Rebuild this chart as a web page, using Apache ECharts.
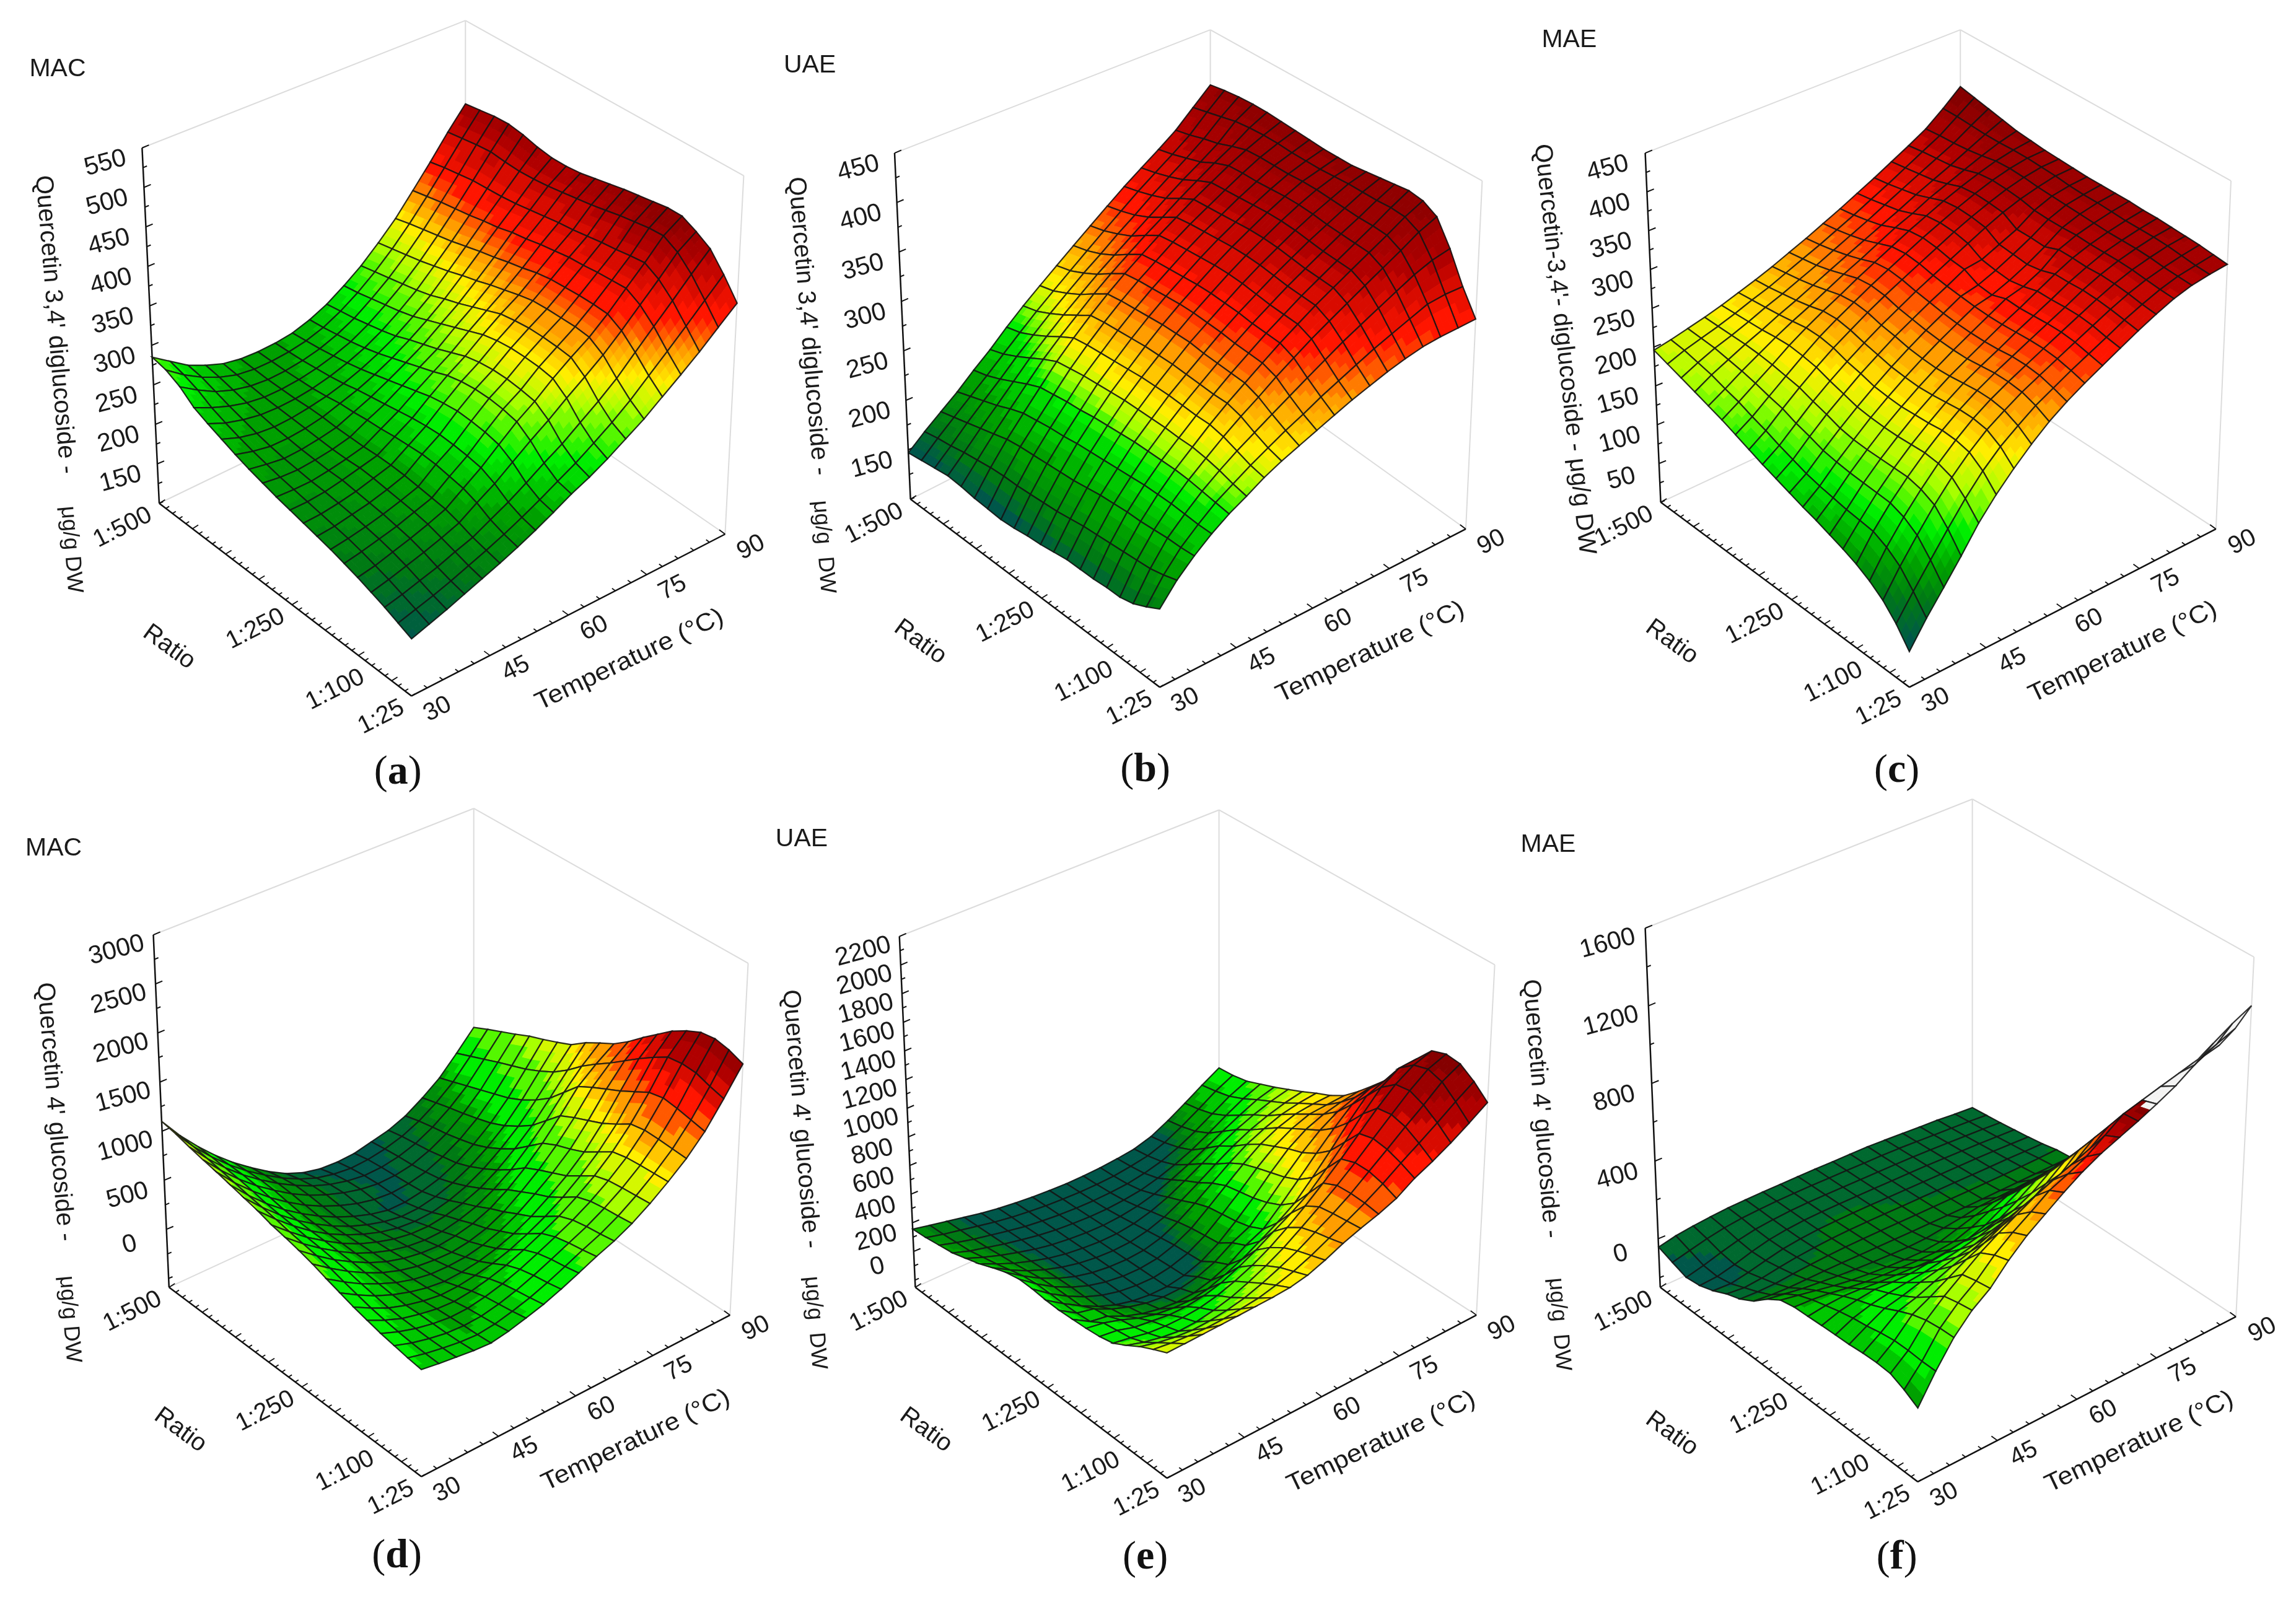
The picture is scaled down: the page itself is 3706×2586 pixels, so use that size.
<!DOCTYPE html>
<html><head><meta charset="utf-8">
<style>html,body{margin:0;padding:0;background:#fff}#c{width:3706px;height:2586px}</style>
<script src="https://cdn.jsdelivr.net/npm/echarts@6/dist/echarts.min.js"></script>
</head><body><div id="c"></div>
<script>
// Axis values
const temperatureTicks=[30,45,60,75,90];
const ratioTicks=[500,250,100,25];
const zTicksA=[150,200,250,300,350,400,450,500,550];
const zTicksB=[150,200,250,300,350,400,450];
const zTicksC=[50,100,150,200,250,300,350,400,450];
const zTicksD=[0,500,1000,1500,2000,2500,3000];
const zTicksE=[0,200,400,600,800,1000,1200,1400,1600,1800,2000,2200];
const zTicksF=[0,400,800,1200,1600];
// Surface values: one row per ratio step (1:500 -> 1:25), one column per temperature step (30 -> 90)
const surfaceA=[
[285,270,255,245,237,233,232,233,236,243,253,267,283,303,325,352,380,410,438],
[281,265,252,242,235,232,232,234,238,245,256,270,287,307,330,356,384,413,441],
[272,258,246,238,233,231,232,235,240,248,259,274,291,311,334,360,387,416,444],
[258,248,240,234,231,231,233,237,243,251,263,278,295,315,338,363,390,418,445],
[250,241,235,231,230,231,234,239,246,255,267,282,299,320,342,366,391,416,442],
[243,235,230,228,229,232,236,242,250,260,272,287,304,325,347,370,392,415,437],
[236,230,226,226,228,232,239,246,255,266,279,294,311,331,352,373,394,416,434],
[230,226,223,224,227,231,240,249,260,272,285,301,317,336,356,378,397,418,434],
[225,222,221,223,226,231,242,252,265,278,291,308,324,342,361,381,400,421,436],
[220,219,219,222,226,231,243,255,270,284,298,315,331,347,365,385,403,424,440],
[216,216,218,222,227,232,245,258,275,291,305,322,338,352,370,388,405,427,444],
[212,213,216,220,226,232,246,260,278,295,309,326,341,356,373,391,408,431,448],
[208,210,214,218,224,231,247,261,280,297,311,328,343,357,374,392,411,435,451],
[204,207,211,216,222,229,246,260,279,297,311,328,343,357,375,394,413,438,454],
[199,203,208,213,220,227,243,258,277,295,309,327,342,357,375,395,416,441,457],
[194,198,204,210,217,225,240,255,273,291,306,324,340,355,374,396,418,442,457],
[188,193,199,205,212,220,234,247,263,279,294,311,327,344,364,386,408,432,448],
[182,187,193,199,207,214,225,236,249,263,276,292,308,326,348,370,392,415,437],
[175,181,187,194,202,210,219,229,240,252,264,278,293,310,330,350,371,393,415],
[168,175,182,190,198,206,215,225,236,248,258,270,284,298,315,332,350,370,390]];
const surfaceB=[
[147,160,172,184,198,211,226,240,253,266,279,292,305,318,330,342,355,372,389],
[149,163,176,189,202,216,230,244,257,270,283,296,309,322,334,346,359,376,392],
[151,165,180,194,208,223,237,251,264,277,289,302,314,327,339,351,364,380,394],
[153,168,184,199,215,231,245,259,272,285,297,309,321,333,345,356,368,384,395],
[152,170,188,205,222,239,254,268,282,295,307,319,330,342,353,364,374,386,395],
[150,172,192,210,228,246,262,277,291,304,316,328,339,350,360,370,379,387,394],
[149,173,194,212,230,248,264,279,293,306,318,330,341,351,361,371,380,387,393],
[148,173,195,214,232,250,265,280,294,307,319,331,342,352,362,371,380,386,392],
[149,174,196,215,233,251,266,281,295,308,320,332,343,353,363,372,380,386,391],
[151,175,197,217,235,252,267,282,296,309,321,333,344,354,364,373,381,386,391],
[152,176,198,218,236,253,268,282,296,309,321,333,344,354,364,373,381,387,391],
[154,178,200,219,237,253,268,282,296,308,320,332,343,353,363,372,380,388,393],
[156,180,202,220,238,253,268,281,294,307,319,330,341,351,361,370,379,388,395],
[156,181,203,221,238,253,267,280,293,305,317,328,339,349,359,369,378,388,397],
[156,182,204,222,238,252,266,279,292,304,316,327,338,348,358,368,378,389,399],
[157,183,204,222,238,252,266,279,291,303,315,326,337,347,357,367,377,388,397],
[157,184,205,222,237,250,263,275,286,298,309,320,330,340,350,360,370,381,389],
[160,185,206,221,235,247,258,268,278,288,298,308,318,327,336,345,354,361,365],
[166,188,206,220,233,243,253,262,271,279,288,296,304,312,319,326,333,335,335],
[173,192,207,220,231,240,250,258,265,272,279,286,292,298,303,307,309,310,311]];
const surfaceC=[
[196,200,205,210,216,223,230,238,247,256,266,276,287,298,310,322,335,353,373],
[190,198,204,210,217,225,232,241,250,259,269,279,290,301,313,325,337,353,369],
[184,194,203,210,218,227,235,244,253,263,273,283,294,305,316,327,338,352,365],
[178,190,200,210,219,229,238,248,258,268,278,288,298,309,319,329,340,351,361],
[172,184,197,209,221,232,242,253,264,274,285,296,305,316,325,334,343,351,357],
[166,179,193,207,222,235,247,258,270,281,292,303,313,323,332,340,347,352,355],
[159,172,188,204,220,235,248,260,272,283,294,305,315,325,334,342,348,352,353],
[152,166,184,201,217,232,245,258,270,281,292,303,314,324,333,341,347,351,352],
[145,159,177,195,211,226,240,253,265,277,288,299,310,321,331,339,345,350,351],
[139,153,172,190,206,222,236,250,262,274,285,297,300,310,320,335,344,348,350],
[133,147,166,184,201,217,232,246,259,271,283,288,297,308,320,334,343,347,350],
[127,143,163,181,199,215,230,244,257,269,281,286,295,306,319,334,342,347,350],
[122,140,161,180,198,214,229,243,256,268,280,292,298,309,326,335,341,346,350],
[116,137,160,180,198,215,230,244,256,268,280,291,303,315,326,334,340,345,349],
[110,135,159,180,199,216,232,246,258,269,281,292,303,315,325,334,340,345,349],
[103,133,158,180,200,218,234,248,260,271,282,293,304,316,326,334,340,345,348],
[94,125,152,176,198,217,234,248,260,271,282,293,304,315,325,333,339,344,347],
[82,113,141,168,192,213,231,245,258,269,280,291,302,313,323,331,337,342,346],
[65,94,122,150,177,201,221,237,252,264,276,287,298,310,320,329,336,340,344],
[43,73,100,128,158,183,205,225,243,258,271,283,295,307,318,328,335,339,342]];
const surfaceD=[
[1100,880,690,520,370,240,120,20,-50,-90,-100,-90,-50,-10,60,170,300,480,674],
[1070,860,680,520,380,260,150,60,-10,-50,-70,-60,-30,20,100,210,350,540,745],
[1030,835,665,515,385,270,170,85,20,-25,-50,-45,-15,40,130,250,400,600,810],
[995,810,645,500,375,260,165,90,30,-15,-40,-35,-5,60,155,285,450,660,875],
[965,780,620,475,350,240,150,75,15,-25,-40,-25,15,90,190,325,500,715,945],
[930,750,590,450,330,225,135,60,0,-40,-40,-10,40,120,230,370,550,770,1000],
[895,725,570,435,320,220,135,70,20,-10,-5,30,90,175,290,435,620,840,1060],
[860,700,555,425,315,225,150,90,50,35,45,85,150,245,370,520,710,920,1125],
[815,670,535,420,315,230,165,115,85,80,105,150,220,325,460,620,820,1030,1235],
[785,645,520,410,310,235,175,135,115,120,155,210,300,420,580,760,970,1160,1320],
[750,620,500,400,310,240,190,160,150,170,210,280,390,530,700,900,1120,1270,1400],
[710,590,480,385,305,245,205,185,180,205,255,340,460,600,770,970,1200,1370,1510],
[660,550,450,370,300,250,220,215,225,260,320,410,530,660,820,1030,1270,1480,1640],
[615,515,425,355,300,260,240,250,275,320,385,475,590,720,880,1090,1340,1590,1760],
[570,480,400,345,305,280,285,310,345,400,475,565,675,810,970,1170,1420,1690,1880],
[535,455,390,350,320,310,330,370,420,490,570,660,770,900,1060,1260,1500,1780,1970],
[500,435,385,350,330,335,365,410,470,545,625,710,815,940,1090,1285,1530,1800,2040],
[475,420,380,350,340,350,385,435,500,575,655,735,835,955,1100,1280,1510,1790,2060],
[450,410,380,355,345,365,405,455,520,595,675,750,845,965,1105,1270,1480,1740,2030],
[430,405,385,365,355,385,430,480,545,620,700,770,860,975,1110,1260,1450,1700,1973]];
const surfaceE=[
[156,130,105,80,55,35,20,8,0,-5,-5,0,10,25,60,120,190,265,336],
[165,135,110,85,60,40,25,12,5,0,0,5,20,40,80,140,210,285,345],
[180,145,115,90,65,42,27,15,8,5,8,15,35,65,110,170,240,310,365],
[195,155,125,95,70,47,30,20,13,12,20,35,65,105,155,220,290,355,405],
[225,178,138,103,72,48,32,22,18,25,42,72,118,170,230,295,355,410,445],
[255,200,150,110,75,50,35,25,25,40,70,115,175,240,310,370,420,460,490],
[295,225,165,118,80,52,35,28,32,55,95,155,225,300,370,430,475,510,535],
[330,250,180,125,82,53,37,32,40,70,125,200,285,370,445,500,545,570,585],
[350,262,188,130,85,55,38,35,48,85,145,235,330,425,510,570,610,625,630],
[348,262,190,130,85,55,40,37,55,92,158,250,350,460,555,625,670,680,690],
[338,260,190,130,85,55,40,40,60,100,170,265,370,490,600,680,730,760,780],
[335,262,235,178,135,105,90,92,115,160,235,290,400,520,635,735,810,855,880],
[340,270,250,195,155,130,118,125,155,205,280,335,445,565,690,810,920,975,985],
[345,325,290,245,215,200,195,215,255,305,370,440,520,640,770,910,1040,1090,1110],
[355,340,305,290,275,275,290,320,370,430,500,570,650,765,890,1030,1160,1240,1250],
[375,355,330,320,320,330,355,395,445,510,590,680,780,890,1010,1130,1240,1320,1365],
[425,390,365,350,355,375,405,450,505,570,650,735,825,925,1035,1145,1255,1350,1400],
[480,450,430,420,425,440,465,505,555,610,680,750,830,925,1020,1120,1215,1320,1390],
[525,510,500,495,500,510,525,555,590,640,700,760,825,900,985,1065,1150,1240,1325],
[565,568,572,576,580,585,590,600,625,670,725,770,810,860,940,1000,1070,1150,1237]];
const surfaceF=[
[-43,-25,-15,-8,-3,-2,-2,-3,-4,-5,-8,-10,-12,-18,-25,-32,-38,-48,-56],
[-70,-50,-30,-15,-6,-2,0,0,-1,-3,-5,-8,-10,-14,-20,-27,-33,-40,-48],
[-95,-75,-50,-28,-12,-4,1,2,1,-1,-3,-5,-7,-10,-15,-20,-26,-32,-40],
[-85,-80,-60,-35,-15,-4,2,4,3,2,0,-2,-4,-6,-10,-14,-18,-24,-30],
[-60,-65,-50,-30,-12,-2,4,6,6,5,3,1,-1,-3,-5,-7,-10,-15,-20],
[-25,-35,-28,-15,-4,3,8,10,9,8,6,5,3,2,0,-2,-3,-6,-8],
[0,-5,-5,2,8,12,14,14,13,12,10,9,8,7,6,5,5,6,8],
[40,30,25,25,25,24,22,20,18,16,15,14,13,13,14,14,15,15,16],
[100,85,70,60,50,42,36,32,28,30,40,50,65,68,70,75,80,85,90],
[145,128,110,92,78,68,60,55,52,60,85,110,135,142,150,155,160,165,170],
[160,155,145,130,118,110,105,100,100,110,140,180,215,228,240,255,271,270,270],
[163,175,180,175,165,160,155,150,160,170,200,250,300,315,330,352,376,378,380],
[167,195,210,220,215,215,225,235,250,260,280,330,390,410,432,458,484,487,490],
[170,210,235,250,260,270,285,300,320,345,370,415,480,503,526,556,587,594,600],
[172,220,265,285,310,330,350,370,400,425,450,510,580,608,637,666,695,708,720],
[178,235,300,325,360,395,425,460,500,530,560,605,684,713,742,771,800,820,840],
[180,245,330,375,425,475,515,560,605,640,670,715,789,818,847,875,903,930,960],
[175,245,350,425,490,555,610,660,710,750,785,825,895,925,953,980,1008,1035,1060],
[145,240,358,440,505,590,660,720,785,825,870,935,1003,1030,1058,1085,1113,1150,1190],
[105,240,360,450,515,610,690,755,820,880,930,970,1010,1055,1105,1170,1240,1300,1350]];

const ramp=['#00574a','#007a14','#00a000','#00ee00','#a8ff00','#ffee00','#ff9d00','#ff1500','#b00000','#850000'];
const panels=[
{letter:'a',title:'MAC',crop:[0,0,1240,1300],surface:surfaceA,zTicks:zTicksA,zMin:100,levels:[165,195,225,262,300,325,348,375,425,455],steps:4,
 F0:[840,1355],R0:[1480,1040],L0:[325,980],B0:[950,692],F1:[840,620],R1:[1518,342],L1:[290,288],B1:[950,40],
 titleAt:[60,135],capAt:[812,1505],zTitle:["Quercetin 3,4' diglucoside -",112,632,-85.3],unit:['μg/g DW',145,1070,-85.3],ratioAt:[345,1260],tempAt:[1285,1285]},
{letter:'b',title:'UAE',crop:[1230,0,1220,1300],surface:surfaceB,zTicks:zTicksB,zMin:100,levels:[150,165,190,228,243,258,282,312,355,400],steps:4,
 F0:[825,1338],R0:[1460,1030],L0:[308,972],B0:[930,674],F1:[825,608],R1:[1494,352],L1:[275,298],B1:[930,58],
 titleAt:[45,128],capAt:[795,1500],zTitle:["Quercetin 3,4' diglucoside -",95,635,-85.3],unit:['μg/g  DW',128,1065,-85.3],ratioAt:[328,1250],tempAt:[1262,1270]},
{letter:'c',title:'MAE',crop:[2440,0,1266,1300],surface:surfaceC,zTicks:zTicksC,zMin:0,levels:[43,85,110,145,180,212,245,285,330,362],steps:4,
 F0:[795,1338],R0:[1408,1030],L0:[298,978],B0:[897,705],F1:[795,613],R1:[1438,352],L1:[267,298],B1:[897,58],
 titleAt:[60,78],capAt:[770,1502],zTitle:["Quercetin-3,4'- diglucoside - μg/g DW",105,680,-83.7],unit:null,ratioAt:[320,1250],tempAt:[1222,1270]},
{letter:'d',title:'MAC',crop:[0,1280,1240,1306],surface:surfaceD,zTicks:zTicksD,zMin:-590,levels:[-130,70,260,430,850,1080,1250,1520,1800,2050],steps:2,
 F0:[860,1325],R0:[1490,1012],L0:[345,958],B0:[967,685],F1:[860,595],R1:[1527,330],L1:[313,275],B1:[967,30],
 titleAt:[52,108],capAt:[810,1480],zTitle:["Quercetin 4' glucoside -",112,618,-85.3],unit:['μg/g DW',142,1020,-85.3],ratioAt:[368,1235],tempAt:[1298,1255]},
{letter:'e',title:'UAE',crop:[1230,1280,1220,1306],surface:surfaceE,zTicks:zTicksE,zMin:-250,levels:[70,110,170,300,450,560,700,900,1150,1350],steps:2,
 F0:[840,1328],R0:[1482,1012],L0:[318,958],B0:[948,690],F1:[840,598],R1:[1520,333],L1:[285,278],B1:[948,33],
 titleAt:[28,90],capAt:[795,1483],zTitle:["Quercetin 4' glucoside -",80,632,-85.3],unit:['μg/g  DW',110,1027,-85.3],ratioAt:[340,1235],tempAt:[1285,1258]},
{letter:'f',title:'MAE',crop:[2440,1280,1266,1306],surface:surfaceF,zTicks:zTicksF,zMin:-250,levels:[-120,5,100,220,400,560,720,860,950,1020],steps:2,whiteAbove:1030,
 F0:[812,1335],R0:[1448,1015],L0:[297,958],B0:[921,680],F1:[812,590],R1:[1484,318],L1:[267,262],B1:[921,12],
 titleAt:[18,100],capAt:[770,1483],zTitle:["Quercetin 4' glucoside -",58,612,-85.3],unit:['μg/g  DW',95,1030,-85.3],ratioAt:[320,1242],tempAt:[1255,1258]}
];
const RAD=Math.PI/180, FONT='"Liberation Sans",Arial,sans-serif';
const lerp=(a,b,t)=>[a[0]+(b[0]-a[0])*t,a[1]+(b[1]-a[1])*t];
function bil(a,b,c,d,u,v){return lerp(lerp(a,b,u),lerp(c,d,u),v);}
function project(p,u,v,w){
  const f=bil(p.F0,p.R0,p.L0,p.B0,u,v), t=bil(p.F1,p.R1,p.L1,p.B1,u,v);
  return lerp(f,t,w);
}
const lerpHex=(a,b,t)=>{const pa=parseInt(a.slice(1),16),pb=parseInt(b.slice(1),16);
  const c=s=>Math.round(((pa>>s)&255)+(((pb>>s)&255)-((pa>>s)&255))*t);
  return `rgb(${c(16)},${c(8)},${c(0)})`;};
function colorOf(p,z){
  if(p.whiteAbove&&z>p.whiteAbove)return '#f4f4f4';
  const L=p.levels;
  if(z<=L[0])return ramp[0];
  if(z>=L[L.length-1])return ramp[ramp.length-1];
  let i=0; while(z>L[i+1])i++;
  let t=(z-L[i])/(L[i+1]-L[i]); t=Math.floor(t*p.steps)/p.steps;
  return lerpHex(ramp[i],ramp[i+1],t);
}
function surfaceItem(p,api){
  const k=api.value(0), j=api.value(1), S=p.surface, nT=S[0].length-1, nR=S.length-1;
  const zMax=p.zTicks[p.zTicks.length-1], n=3, kids=[];
  const zAt=(a,b)=>{ // a,b in 0..1 inside the cell, drawing only
    const z0=S[j][k]+(S[j][k+1]-S[j][k])*a, z1=S[j+1][k]+(S[j+1][k+1]-S[j+1][k])*a; return z0+(z1-z0)*b;};
  const pt=(a,b)=>{const z=zAt(a,b);
    return api.coord(project(p,(k+a)/nT,1-(j+b)/nR,(z-p.zMin)/(zMax-p.zMin)));};
  for(let x=0;x<n;x++)for(let y=0;y<n;y++){
    const a0=x/n,a1=(x+1)/n,b0=y/n,b1=(y+1)/n,col=colorOf(p,zAt((a0+a1)/2,(b0+b1)/2));
    kids.push({type:'polygon',silent:true,shape:{points:[pt(a0,b0),pt(a1,b0),pt(a1,b1),pt(a0,b1)]},style:{fill:col,stroke:col,lineWidth:1}});
  }
  kids.push({type:'polygon',silent:true,shape:{points:[pt(0,0),pt(1,0),pt(1,1),pt(0,1)]},style:{fill:'none',stroke:'rgba(20,20,20,0.88)',lineWidth:2.2}});
  return {type:'group',children:kids};
}
function frameItem(p,api){
  const kids=[], c=q=>api.coord(q);
  const line=(a,b,col,w)=>kids.push({type:'line',silent:true,shape:{x1:c(a)[0],y1:c(a)[1],x2:c(b)[0],y2:c(b)[1]},style:{stroke:col,lineWidth:w}});
  const text=(x,y,str,o)=>{const q=c([x,y]);kids.push({type:'text',silent:true,x:q[0],y:q[1],rotation:(o.rot||0)*RAD,scaleX:o.sx||1,
    style:{text:str,fill:'#1a1a1a',fontFamily:FONT,fontSize:o.size||40,align:o.align||'center',verticalAlign:'middle',rich:o.rich}});};
  const G='#dcdcdc';
  line(p.L1,p.B1,G,2);line(p.B1,p.R1,G,2);line(p.B1,p.B0,G,2);line(p.L0,p.B0,G,2);line(p.R0,p.B0,G,2);line(p.R0,p.R1,G,2);
  line(p.L0,p.L1,'#111',2.5);line(p.L0,p.F0,'#111',2.5);line(p.F0,p.R0,'#111',2.5);
  const zMax=p.zTicks[p.zTicks.length-1], zw=z=>(z-p.zMin)/(zMax-p.zMin), step=p.zTicks[1]-p.zTicks[0];
  // z axis
  for(let z=zMax;z>=p.zMin-1e-6;z-=step/2){
    const P=project(p,0,1,zw(z)), major=p.zTicks.includes(z), len=major?14:8;
    line(P,[P[0]+len,P[1]-len*0.4],'#111',2);
  }
  p.zTicks.forEach(z=>{const P=project(p,0,1,zw(z));text(P[0]-75,P[1]+30,String(z),{rot:15,size:41});});
  // ratio axis
  for(let r=500;r>=25-1e-6;r-=12.5){
    const v=(r-25)/475,P=project(p,0,v,0),major=(500-r)%62.5===0,len=major?14:8;
    line(P,[P[0]+len*0.85,P[1]-len*0.5],'#111',1.8);
  }
  ratioTicks.forEach(r=>{const P=project(p,0,(r-25)/475,0);text(P[0]-18,P[1]+20,'1:'+r,{align:'right',rot:27,size:40});});
  // temperature axis
  for(let t=30;t<=90;t+=3){
    const P=project(p,(t-30)/60,0,0),major=(t-30)%15===0,len=major?14:8;
    line(P,[P[0]-len*0.85,P[1]-len*0.6],'#111',1.8);
  }
  temperatureTicks.forEach(t=>{const P=project(p,(t-30)/60,0,0);text(P[0]+53,P[1]+26,String(t),{rot:27,size:40});});
  // titles
  text(p.titleAt[0],p.titleAt[1],p.title,{align:'left',size:41});
  text(p.zTitle[1],p.zTitle[2],p.zTitle[0],{rot:p.zTitle[3],size:40});
  if(p.unit)text(p.unit[1],p.unit[2],p.unit[0],{rot:p.unit[3],size:36});
  text(p.ratioAt[0],p.ratioAt[1],'Ratio',{rot:-36,size:40});
  text(p.tempAt[0],p.tempAt[1],'Temperature (°C)',{rot:25.5,size:40,sx:1.08});
  const q=c(p.capAt);
  kids.push({type:'text',silent:true,x:q[0],y:q[1],style:{text:'({b|'+p.letter+'})',align:'center',verticalAlign:'middle',fill:'#111',
    fontFamily:'"Liberation Serif",serif',fontSize:66,rich:{b:{fontFamily:'"Liberation Serif",serif',fontSize:66,fontWeight:'bold',fill:'#111'}}}});
  return {type:'group',children:kids};
}
const grid=[],xAxis=[],yAxis=[],series=[];
panels.forEach((p,i)=>{
  grid.push({left:p.crop[0],top:p.crop[1],width:p.crop[2],height:p.crop[3]});
  xAxis.push({type:'value',gridIndex:i,min:0,max:1568,show:false});
  yAxis.push({type:'value',gridIndex:i,min:0,max:1568,inverse:true,show:false});
  series.push({type:'custom',name:p.letter+' axes',xAxisIndex:i,yAxisIndex:i,clip:false,silent:true,z:1,data:[[0,0]],renderItem:(ps,api)=>frameItem(p,api)});
  const cells=[];
  for(let j=0;j<p.surface.length-1;j++)for(let k=p.surface[0].length-2;k>=0;k--)cells.push([k,j]);
  series.push({type:'custom',name:p.letter+' surface',xAxisIndex:i,yAxisIndex:i,clip:false,silent:true,z:2,progressive:0,data:cells,renderItem:(ps,api)=>surfaceItem(p,api)});
});
const chart=echarts.init(document.getElementById('c'),null,{renderer:'canvas',width:3706,height:2586});
chart.setOption({animation:false,backgroundColor:'#fff',tooltip:{show:false},grid,xAxis,yAxis,series});
</script></body></html>
